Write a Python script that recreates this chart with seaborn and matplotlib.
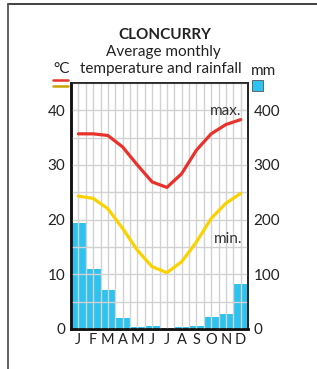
import pandas as pd
import matplotlib.pyplot as plt
import seaborn as sns
from matplotlib.lines import Line2D
from matplotlib.patches import Rectangle


# data
months = ['J', 'F', 'M', 'A', 'M', 'J', 'J', 'A', 'S', 'O', 'N', 'D']
temp_max = [35.7, 35.7, 35.4, 33.3, 30.0, 26.9, 25.9, 28.4, 32.7, 35.7, 37.4, 38.3]
temp_min = [24.3, 23.9, 22.0, 18.4, 14.4, 11.4, 10.3, 12.3, 15.9, 20.2, 23.0, 24.8]
rainfall = [194, 110, 72, 21, 4, 6, 2, 4, 6, 22, 28, 82]

df = pd.DataFrame({'idx': range(12), 'month': months,
                   'tmax': temp_max, 'tmin': temp_min, 'rain': rainfall})

sns.set_style('white')
plt.rcParams['font.family'] = ['Lato', 'DejaVu Sans']

W, H = 317, 369
fig = plt.figure(figsize=(W / 100, H / 100), dpi=100)
ax = fig.add_axes([71 / W, 1 - 329 / H, (248 - 71) / W, (329 - 83) / H])
ax2 = ax.twinx()

# rainfall bars (mm, right axis)
sns.barplot(x='idx', y='rain', data=df, color='#2cc3f1', width=1.0,
            saturation=1, edgecolor='none', ax=ax)
ax.set_xlim(-0.5, 11.5)
ax.set_ylim(0, 450)
ax.set_yticks([0, 100, 200, 300, 400])
ax.set_yticks([50, 150, 250, 350, 450], minor=True)
ax.set_xticks(range(12))
ax.set_xticklabels(months)
ax.set_xticks([i + 0.5 for i in range(11)], minor=True)
ax.set_xlabel('')
ax.set_ylabel('')
ax.set_axisbelow(False)
ax.grid(True, which='both', color='#d2d2d2', lw=1.0)

# temperature lines (left axis)
sns.lineplot(x='idx', y='tmax', data=df, color='#e8322b', lw=2.3, ax=ax2,
             solid_joinstyle='round', solid_capstyle='round')
sns.lineplot(x='idx', y='tmin', data=df, color='#fad200', lw=2.3, ax=ax2,
             solid_joinstyle='round', solid_capstyle='round')
ax2.set_ylim(0, 45)
ax2.set_yticks([0, 10, 20, 30, 40])
ax2.set_xlim(-0.5, 11.5)
ax2.set_xlabel('')
ax2.set_ylabel('')

# swap sides: temperature left, rainfall right
ax.yaxis.tick_right()
ax2.yaxis.tick_left()
ax.tick_params(axis='both', which='both', length=0, labelsize=11, colors='#222222')
ax.tick_params(axis='y', pad=4)
ax.tick_params(axis='x', pad=3, labelsize=10.5)
ax2.tick_params(axis='y', length=0, labelsize=11, colors='#222222', pad=4)

ax2.text(11.05, 39.1, 'max.', ha='right', va='baseline', fontsize=11, color='#333333')
ax2.text(11.1, 15.7, 'min.', ha='right', va='baseline', fontsize=11, color='#333333')

for a in (ax, ax2):
    for s in ['left', 'bottom']:
        a.spines[s].set_linewidth(1.8)
        a.spines[s].set_color('#111111')
    for s in ['top', 'right']:
        a.spines[s].set_linewidth(1.2)
        a.spines[s].set_color('#222222')

# titles
fig.text(165 / W, 1 - 35 / H, 'CLONCURRY', ha='center', va='center',
         fontsize=11, fontweight='bold', color='#222222')
fig.text(163 / W, 1 - 52 / H, 'Average monthly', ha='center', va='center',
         fontsize=11, color='#222222')
fig.text(161 / W, 1 - 69 / H, 'temperature and rainfall', ha='center', va='center',
         fontsize=11, color='#222222')
fig.text(62 / W, 1 - 69 / H, '°C', ha='center', va='center', fontsize=11, color='#222222')
fig.text(264 / W, 1 - 71 / H, 'mm', ha='center', va='center', fontsize=11, color='#222222')

# legend keys
fig.add_artist(Line2D([53 / W, 68 / W], [1 - 80 / H, 1 - 80 / H], color='#e8322b', lw=1.8))
fig.add_artist(Line2D([53 / W, 68 / W], [1 - 85.5 / H, 1 - 85.5 / H], color='#c9a300', lw=1.8))
fig.add_artist(Rectangle((252 / W, 1 - 91 / H), 11 / W, 11 / H, transform=fig.transFigure,
                         facecolor='#2cc3f1', edgecolor='#555555', lw=0.6))

# page frame
fig.add_artist(Line2D([8 / W, 1], [1 - 4 / H, 1 - 4 / H], color='#333333', lw=1.3))
fig.add_artist(Line2D([8 / W, 8 / W], [0, 1 - 4 / H], color='#555555', lw=1.3))

fig.savefig('out.png', dpi=100)
